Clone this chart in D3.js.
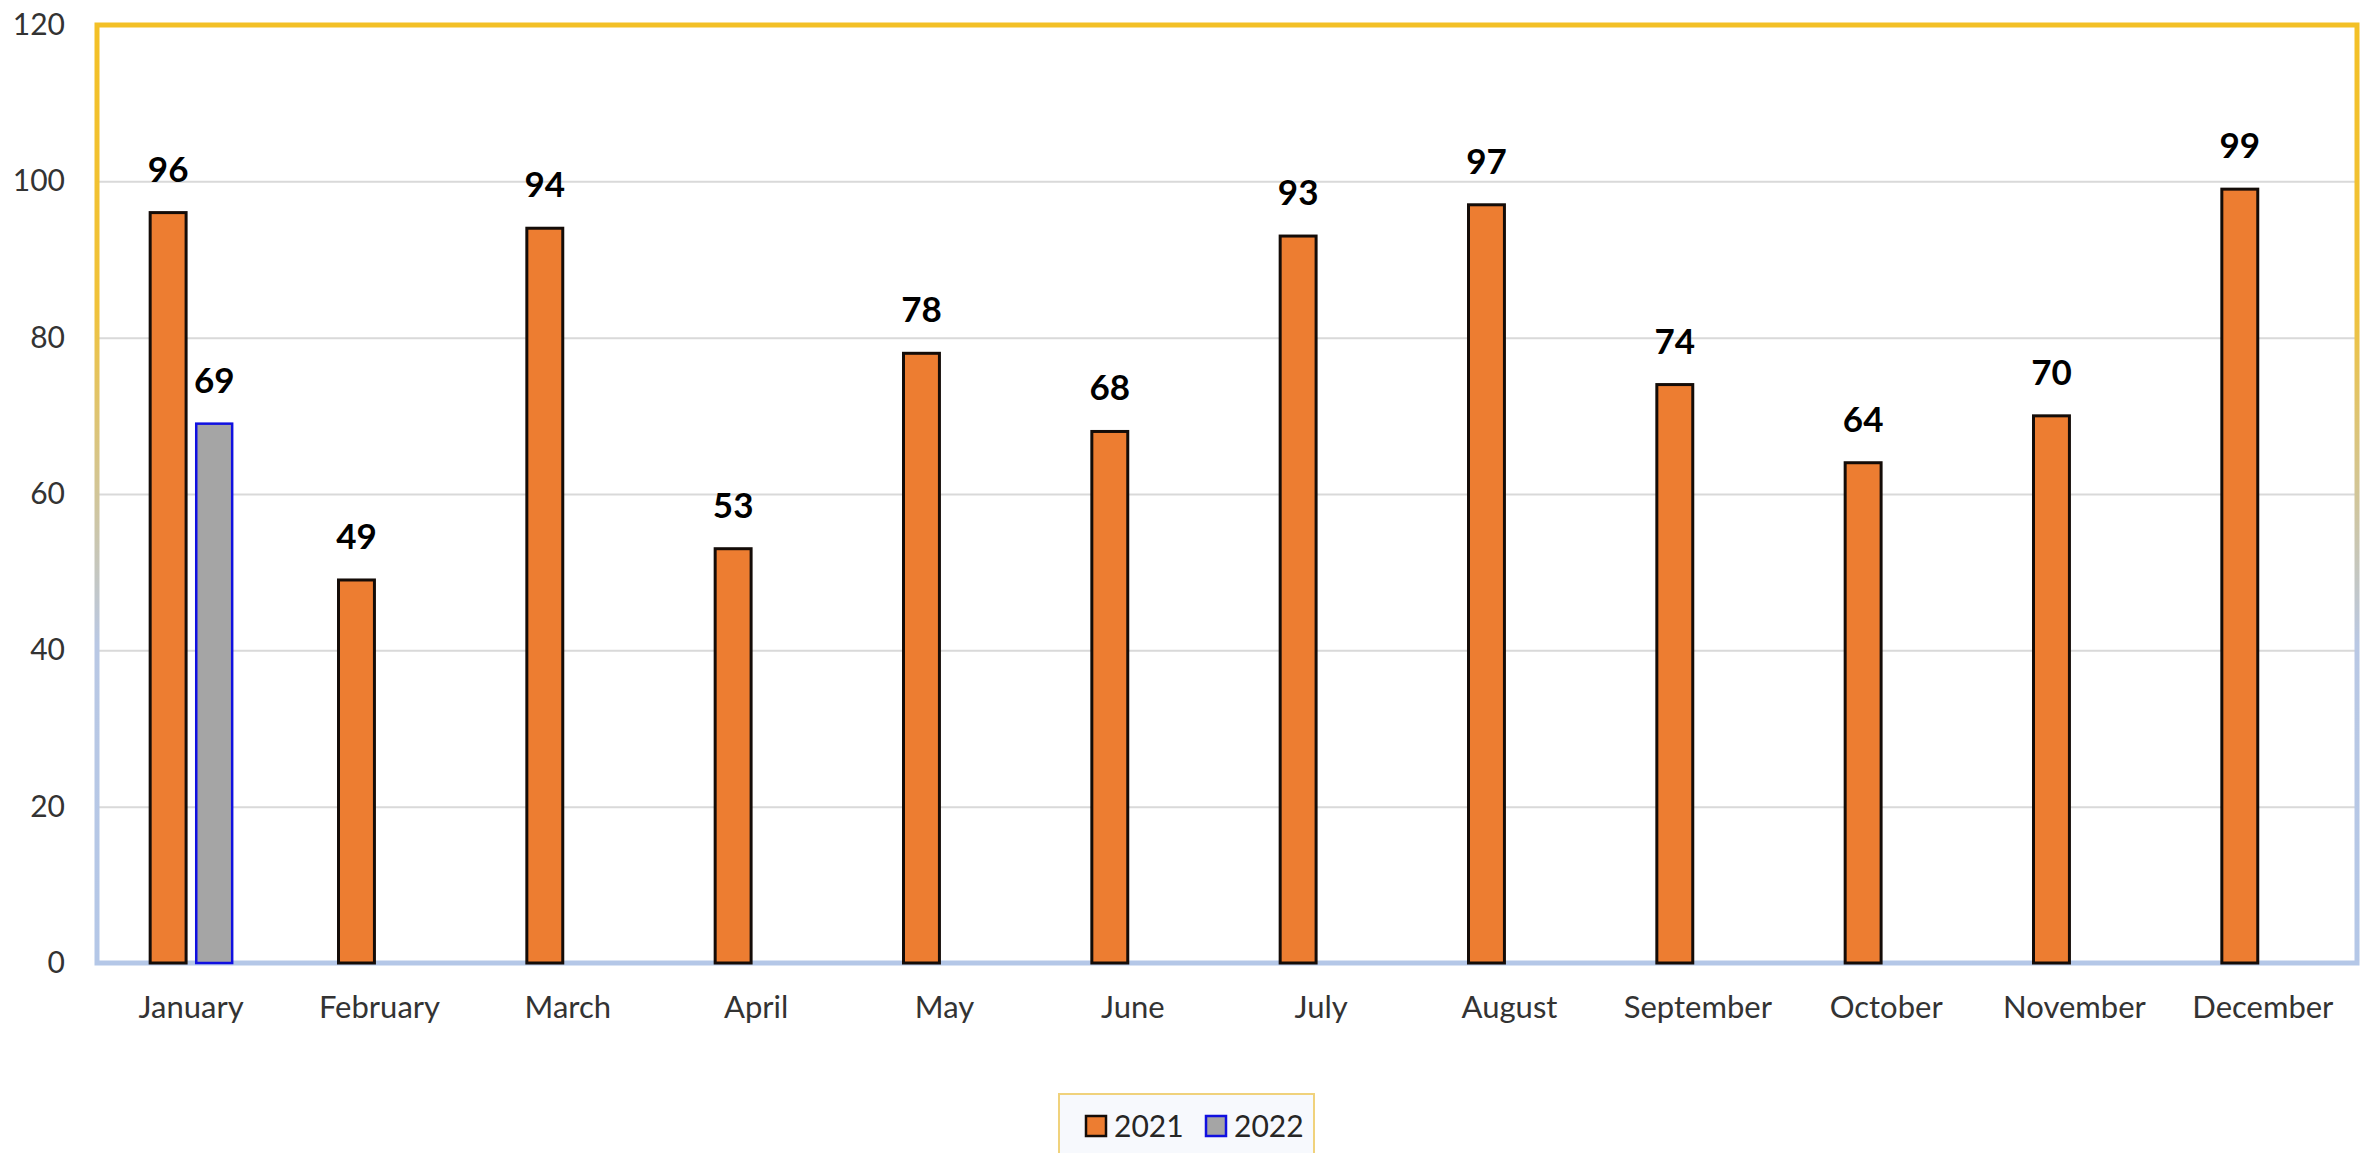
<!DOCTYPE html>
<html>
<head>
<meta charset="utf-8">
<script src="https://cdn.jsdelivr.net/npm/d3@7"></script>
<style>
  html, body { margin: 0; padding: 0; background: #ffffff; }
  svg { display: block; }
  text { font-family: Lato, "Open Sans", sans-serif; }
</style>
</head>
<body>
<svg id="chart" width="2369" height="1153"></svg>
<script>
const months = ["January","February","March","April","May","June","July","August","September","October","November","December"];
const seriesNames = ["2021","2022"];
const values2021 = [96,49,94,53,78,68,93,97,74,64,70,99];
const values2022 = [69,null,null,null,null,null,null,null,null,null,null,null];
const yTicks = [0,20,40,60,80,100,120];

(function(){
const plotL = 97, plotR = 2357, plotT = 25, plotB = 963;

const svg = d3.select("#chart");

const defs = svg.append("defs");
const grad = defs.append("linearGradient")
  .attr("id","borderGrad").attr("gradientUnits","userSpaceOnUse")
  .attr("x1",0).attr("y1",plotT).attr("x2",0).attr("y2",plotB);
grad.append("stop").attr("offset","0").attr("stop-color","#f3c026");
grad.append("stop").attr("offset","0.3").attr("stop-color","#f0c23a");
grad.append("stop").attr("offset","0.66").attr("stop-color","#b9c8e4");
grad.append("stop").attr("offset","1").attr("stop-color","#b4c7e7");

const y = d3.scaleLinear().domain([0,120]).range([plotB, plotT]);
const x0 = d3.scaleBand().domain(months).range([plotL, plotR]).padding(0);
const groupW = 82;
const x1 = d3.scaleBand().domain(seriesNames).range([0, groupW]).paddingInner(0.22).paddingOuter(0);

// gridlines
svg.append("g")
  .attr("transform", `translate(${plotL},0)`)
  .call(d3.axisLeft(y).tickValues(yTicks.filter(v => v > 0 && v < 120)).tickSize(-(plotR-plotL)).tickFormat(""))
  .call(g => g.select(".domain").remove())
  .call(g => g.selectAll("line").attr("stroke","#d9d9d9").attr("stroke-width",2));

// y axis labels
svg.append("g")
  .attr("transform", `translate(${plotL},0)`)
  .call(d3.axisLeft(y).tickValues(yTicks).tickSize(0).tickPadding(32))
  .call(g => g.select(".domain").remove())
  .call(g => g.selectAll("text").attr("font-size",30).attr("fill","#333333").attr("font-family","Lato, 'Open Sans', sans-serif"));

// plot border
svg.append("rect")
  .attr("x", plotL).attr("y", plotT)
  .attr("width", plotR-plotL).attr("height", plotB-plotT)
  .attr("fill","none").attr("stroke","url(#borderGrad)").attr("stroke-width",5);

// data
const data = [];
months.forEach((m,i) => {
  data.push({month:m, series:"2021", value:values2021[i]});
  if (values2022[i] != null) data.push({month:m, series:"2022", value:values2022[i]});
});
const fills = {"2021":"#ed7d31","2022":"#a5a5a5"};
const strokes = {"2021":"#140c08","2022":"#1010e0"};

const bx = d => x0(d.month) + x0.bandwidth()/2 - groupW/2 + x1(d.series);

svg.append("g").selectAll("rect").data(data).join("rect")
  .attr("x", bx)
  .attr("y", d => y(d.value))
  .attr("width", x1.bandwidth())
  .attr("height", d => y(0) - y(d.value))
  .attr("fill", d => fills[d.series])
  .attr("stroke", d => strokes[d.series])
  .attr("stroke-width", d => d.series === "2021" ? 3 : 2.5);

// data labels
svg.append("g").selectAll("text").data(data).join("text")
  .attr("x", d => bx(d) + x1.bandwidth()/2)
  .attr("y", d => y(d.value) - 31)
  .attr("text-anchor","middle")
  .attr("font-size",35).attr("font-weight","bold").attr("fill","#000")
  .text(d => d.value);

// x axis labels
svg.append("g")
  .attr("transform", `translate(0,${plotB})`)
  .call(d3.axisBottom(x0).tickSize(0))
  .call(g => g.select(".domain").remove())
  .call(g => g.selectAll("text").attr("y",55).attr("dy",0).attr("font-size",31).attr("fill","#333333").attr("font-family","Lato, 'Open Sans', sans-serif"));

// legend
const lg = svg.append("g");
lg.append("rect").attr("x",1059).attr("y",1094).attr("width",255).attr("height",75)
  .attr("fill","#f7f9fd").attr("stroke","#f0d27c").attr("stroke-width",2);
const legendX = [1085, 1205];
seriesNames.forEach((s,i) => {
  lg.append("rect").attr("x",legendX[i]+1).attr("y",1116).attr("width",20).attr("height",20)
    .attr("fill",fills[s]).attr("stroke",strokes[s]).attr("stroke-width",2.5);
  lg.append("text").attr("x",legendX[i]+29).attr("y",1137)
    .attr("font-size",30).attr("fill","#262626").text(s);
});
})();
</script>
</body>
</html>
